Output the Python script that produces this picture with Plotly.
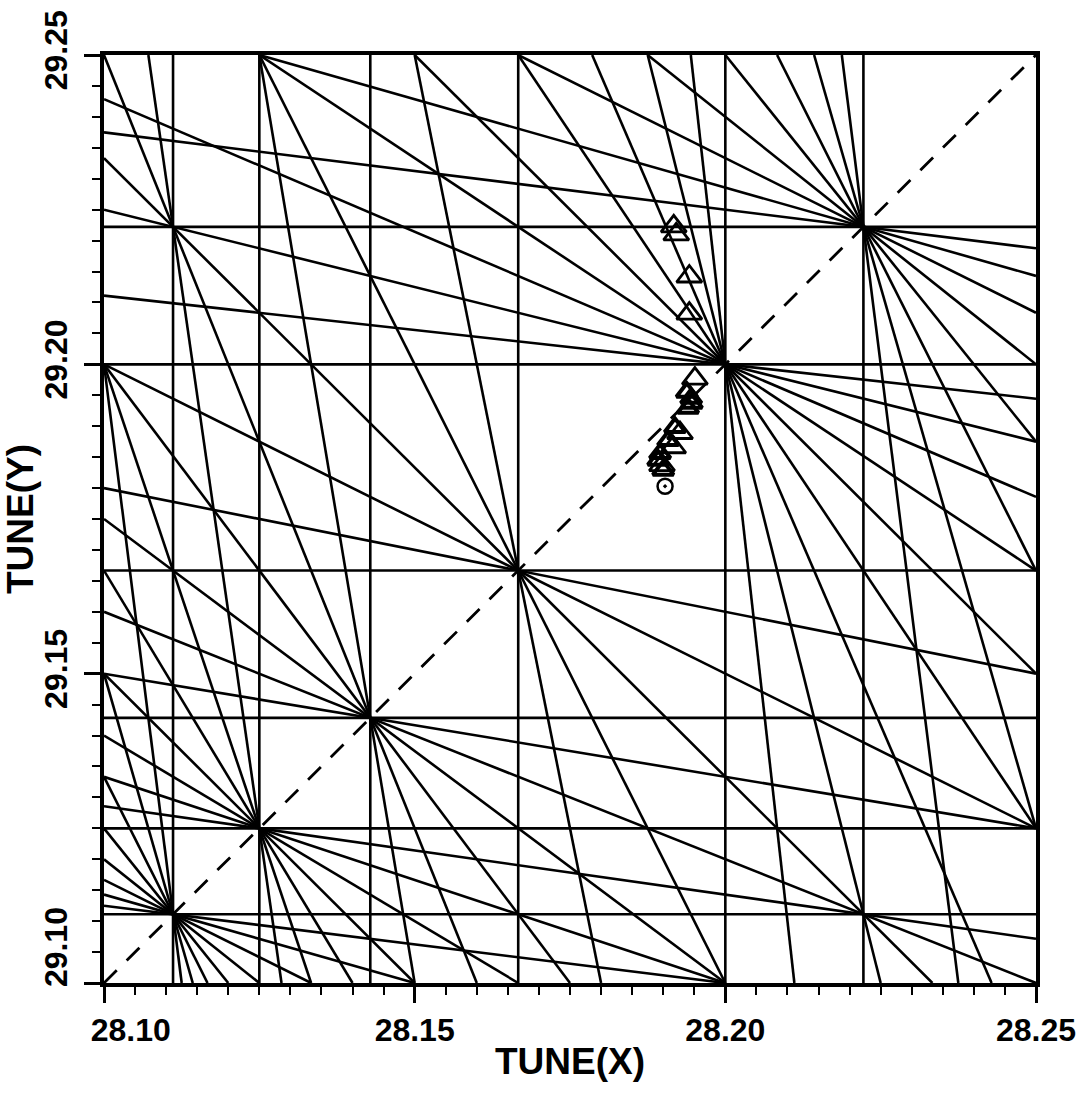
import plotly.graph_objects as go

# ---- axis ranges and ticks ----
X_RANGE = [28.10, 28.25]
Y_RANGE = [29.10, 29.25]
X_INT, Y_INT = 28, 29
X_TICKS = [28.10, 28.15, 28.20, 28.25]
Y_TICKS = [29.10, 29.15, 29.20, 29.25]
NB = "\u00a0"
X_TICKTEXT = [NB * 6 + "28.10", "28.15", "28.20", "28.25"]
Y_TICKTEXT = [NB * 7 + "29.10", "29.15", "29.20", "29.25"]

# ---- resonance lines m*qx + n*qy = k (sum resonances, orders 5..10) ----
RES_M = [0, 1, 2, 3, 4, 5,
         0, 1, 2, 3, 4, 5, 6,
         0, 1, 2, 3, 4, 5, 6, 7,
         0, 1, 2, 3, 4, 5, 6, 7, 8,
         0, 1, 2, 3, 4, 5, 6, 7, 8, 9,
         0, 1, 2, 3, 4, 5, 6, 7, 8, 9,
         1, 3, 5, 7, 9]
RES_N = [5, 4, 3, 2, 1, 0,
         6, 5, 4, 3, 2, 1, 0,
         7, 6, 5, 4, 3, 2, 1, 0,
         8, 7, 6, 5, 4, 3, 2, 1, 0,
         9, 8, 7, 6, 5, 4, 3, 2, 1, 0,
         9, 8, 7, 6, 5, 4, 3, 2, 1, 0,
         9, 7, 5, 3, 1]
RES_K = [1, 1, 1, 1, 1, 1,
         1, 1, 1, 1, 1, 1, 1,
         1, 1, 1, 1, 1, 1, 1, 1,
         1, 1, 1, 1, 1, 1, 1, 1, 1,
         1, 1, 1, 1, 1, 1, 1, 1, 1, 1,
         2, 2, 2, 2, 2, 2, 2, 2, 2, 2,
         2, 2, 2, 2, 2]

# coupling (difference) resonance Qx - Qy = -1 -> qx - qy = 0 (dashed)
COUP_M, COUP_N, COUP_K = 1, -1, 0

# ---- measured tunes ----
OPEN_X = [28.1917, 28.1921, 28.1942, 28.1942, 28.1951, 28.1927, 28.1916, 28.1898]
OPEN_Y = [29.2223, 29.2210, 29.2142, 29.2082, 29.1977, 29.1889, 29.1866, 29.1837]
FILL_X = [28.1938, 28.1945, 28.1946, 28.1940, 28.1919, 28.1908, 28.1895, 28.1892, 28.1900]
FILL_Y = [29.1955, 29.1945, 29.1937, 29.1929, 29.1898, 29.1877, 29.1856, 29.1845, 29.1829]
CIRC_X = [28.1903]
CIRC_Y = [29.1803]


def segment(m, n, k):
    lox, hix = X_RANGE[0] - X_INT, X_RANGE[1] - X_INT
    loy, hiy = Y_RANGE[0] - Y_INT, Y_RANGE[1] - Y_INT
    eps = 1e-9
    pts = []
    if n != 0:
        for qx in (lox, hix):
            qy = (k - m * qx) / n
            if loy - eps <= qy <= hiy + eps:
                pts.append((qx, qy))
    if m != 0:
        for qy in (loy, hiy):
            qx = (k - n * qy) / m
            if lox - eps <= qx <= hix + eps:
                pts.append((qx, qy))
    uniq = []
    for p in pts:
        if all(abs(p[0] - u[0]) > 1e-7 or abs(p[1] - u[1]) > 1e-7 for u in uniq):
            uniq.append(p)
    if len(uniq) < 2:
        return None
    uniq.sort()
    a, b = uniq[0], uniq[-1]
    return (X_INT + a[0], Y_INT + a[1]), (X_INT + b[0], Y_INT + b[1])


lx, ly = [], []
for m, n, k in zip(RES_M, RES_N, RES_K):
    s = segment(m, n, k)
    if s is None:
        continue
    lx += [s[0][0], s[1][0], None]
    ly += [s[0][1], s[1][1], None]

fig = go.Figure()
fig.add_trace(go.Scatter(x=lx, y=ly, mode="lines",
                         line=dict(color="black", width=2.6),
                         hoverinfo="skip", showlegend=False))

cs = segment(COUP_M, COUP_N, COUP_K)
fig.add_trace(go.Scatter(x=[cs[0][0], cs[1][0]], y=[cs[0][1], cs[1][1]], mode="lines",
                         line=dict(color="black", width=2.8, dash="18px,14px"),
                         hoverinfo="skip", showlegend=False))

fig.add_trace(go.Scatter(x=OPEN_X, y=OPEN_Y, mode="markers",
                         marker=dict(symbol="triangle-up-open", size=22, color="black",
                                     line=dict(width=2.8, color="black")),
                         showlegend=False))
fig.add_trace(go.Scatter(x=FILL_X, y=FILL_Y, mode="markers",
                         marker=dict(symbol="triangle-up-open", size=18, color="black",
                                     line=dict(width=4, color="black")),
                         showlegend=False))
fig.add_trace(go.Scatter(x=CIRC_X, y=CIRC_Y, mode="markers",
                         marker=dict(symbol="circle-dot", size=15, color="white",
                                     line=dict(width=2.5, color="black")),
                         showlegend=False))

FONT = "Liberation Sans, Arial, Helvetica, sans-serif"

fig.update_layout(
    width=1086, height=1099,
    margin=dict(l=104, r=50, t=55, b=116),
    paper_bgcolor="white", plot_bgcolor="white",
    showlegend=False,
    xaxis=dict(
        range=X_RANGE, tickvals=X_TICKS, ticktext=X_TICKTEXT,
        showgrid=False, zeroline=False, automargin=False,
        showline=True, linecolor="black", linewidth=3.5, mirror=True,
        ticks="outside", ticklen=16, tickwidth=2.5, tickcolor="black",
        minor=dict(dtick=0.005, ticks="outside", ticklen=8, tickwidth=2, tickcolor="black",
                   showgrid=False),
        tickfont=dict(family=FONT, size=32, color="black", weight="bold"),
        ticklabelstandoff=0,
        title=dict(text="TUNE(X)", standoff=2,
                   font=dict(family=FONT, size=37, color="black", weight="bold")),
    ),
    yaxis=dict(
        range=Y_RANGE, tickvals=Y_TICKS, ticktext=Y_TICKTEXT,
        showgrid=False, zeroline=False, automargin=False,
        showline=True, linecolor="black", linewidth=3.5, mirror=True,
        ticks="outside", ticklen=16, tickwidth=2.5, tickcolor="black",
        minor=dict(dtick=0.005, ticks="outside", ticklen=8, tickwidth=2, tickcolor="black",
                   showgrid=False),
        tickangle=-90,
        tickfont=dict(family=FONT, size=32, color="black", weight="bold"),
        ticklabelstandoff=4,
        title=dict(text="TUNE(Y)", standoff=4,
                   font=dict(family=FONT, size=37, color="black", weight="bold")),
    ),
)

fig.write_html("out.html")
